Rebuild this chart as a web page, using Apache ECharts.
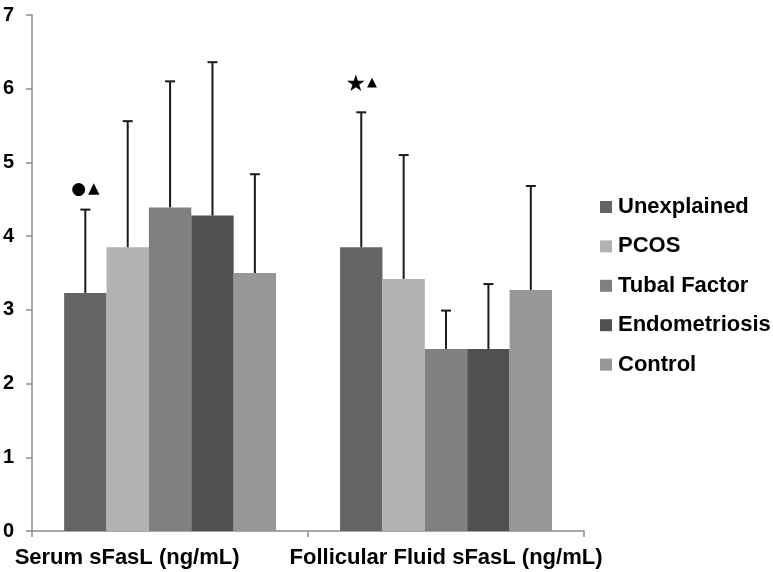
<!DOCTYPE html>
<html><head><meta charset="utf-8">
<script src="https://cdn.jsdelivr.net/npm/echarts@6/dist/echarts.min.js"></script>
<style>html,body{margin:0;padding:0;background:#fff}#c{width:773px;height:572px}</style>
</head><body><div id="c"></div>
<script>
const categories = ['Serum sFasL (ng/mL)', 'Follicular Fluid sFasL (ng/mL)'];
const seriesNames = ['Unexplained', 'PCOS', 'Tubal Factor', 'Endometriosis', 'Control'];
const means = [
  [3.23, 3.85],
  [3.85, 3.42],
  [4.39, 2.47],
  [4.28, 2.47],
  [3.50, 3.27]
];
const errors = [
  [1.13, 1.83],
  [1.71, 1.68],
  [1.71, 0.52],
  [2.08, 0.88],
  [1.34, 1.41]
];
const annotations = [
  [0, 4.63],
  [1, 6.05]
];
const yTicks = [0, 1, 2, 3, 4, 5, 6, 7];
const colors = ['#646464', '#b2b2b2', '#808080', '#505050', '#979797'];

const catGap = 0.232;
const nS = seriesNames.length;
const FONT = '"Liberation Sans", Arial, Helvetica, sans-serif';

const series = [];
seriesNames.forEach((name, i) => {
  series.push({
    name, type: 'bar', data: means[i], barGap: '0%', barCategoryGap: (catGap * 100) + '%',
    itemStyle: { color: colors[i] }, emphasis: { disabled: true }, z: 2
  });
});
seriesNames.forEach((name, i) => {
  series.push({
    type: 'custom', silent: true, z: 3,
    data: means[i].map((m, j) => [j, m, m + errors[i][j]]),
    renderItem: function (params, api) {
      const band = api.size([1, 0])[0];
      const groupW = band * (1 - catGap);
      const bw = groupW / nS;
      const c = api.coord([api.value(0), api.value(1)]);
      const t = api.coord([api.value(0), api.value(2)]);
      const x = c[0] - groupW / 2 + (i + 0.5) * bw;
      const cap = 5;
      const st = { stroke: '#1a1a1a', lineWidth: 2 };
      return { type: 'group', children: [
        { type: 'line', shape: { x1: x, y1: c[1], x2: x, y2: t[1] }, style: st },
        { type: 'line', shape: { x1: x - cap, y1: t[1], x2: x + cap, y2: t[1] }, style: st }
      ]};
    }
  });
});
series.push({
  type: 'custom', silent: true, z: 4,
  data: annotations,
  renderItem: function (params, api) {
    const band = api.size([1, 0])[0];
    const groupW = band * (1 - catGap);
    const bw = groupW / nS;
    const p = api.coord([api.value(0), api.value(1)]);
    const x = p[0] - groupW / 2 + 0.5 * bw;
    const idx = params.dataIndex;
    const txt = idx === 0 ? '{a|●}{b|▲}' : '{s|★}{c|▲}';
    return {
      type: 'text', x: x, y: p[1],
      style: {
        text: txt, align: 'center', verticalAlign: 'middle', fill: '#000',
        rich: {
          a: { fontSize: 17, fill: '#000', fontFamily: 'DejaVu Sans' },
          b: { fontSize: 15, fill: '#000', fontFamily: 'DejaVu Sans', padding: [0, 0, 2, 2] },
          s: { fontSize: 23, fill: '#000', fontFamily: 'DejaVu Sans' },
          c: { fontSize: 13, fill: '#000', fontFamily: 'DejaVu Sans', padding: [0, 0, 4, 1] }
        }
      }
    };
  }
});

const chart = echarts.init(document.getElementById('c'), null, { renderer: 'canvas' });
chart.setOption({
  animation: false,
  backgroundColor: '#fff',
  grid: { left: 32, right: 189, top: 15, bottom: 41, containLabel: false },
  legend: {
    data: seriesNames, orient: 'vertical', left: 600, top: 196, padding: 0,
    itemWidth: 12, itemHeight: 12, itemGap: 17.4, icon: 'rect',
    textStyle: { fontSize: 22, fontWeight: 'bold', color: '#000', fontFamily: FONT, padding: [0, 0, 0, 1] },
    selectedMode: false
  },
  xAxis: {
    type: 'category', data: categories,
    axisLine: { lineStyle: { color: '#8c8c8c', width: 1.5 } },
    axisTick: { show: true, length: 6, lineStyle: { color: '#8c8c8c', width: 1.5 } },
    axisLabel: {
      interval: 0, margin: 16,
      formatter: function (v, i) { return i === 0 ? '{l|' + v + '}' : '{r|' + v + '}'; },
      rich: {
        l: { fontSize: 22, fontWeight: 'bold', color: '#000', fontFamily: FONT, padding: [0, 86, 0, 0] },
        r: { fontSize: 22, fontWeight: 'bold', color: '#000', fontFamily: FONT }
      }
    }
  },
  yAxis: {
    type: 'value', min: yTicks[0], max: yTicks[yTicks.length - 1], interval: 1,
    axisLine: { show: true, lineStyle: { color: '#8c8c8c', width: 1.5 } },
    axisTick: { show: true, length: 6, lineStyle: { color: '#8c8c8c', width: 1.5 } },
    splitLine: { show: false },
    axisLabel: { fontSize: 20, fontWeight: 'bold', color: '#000', fontFamily: FONT, margin: 18 }
  },
  series
});
</script></body></html>
